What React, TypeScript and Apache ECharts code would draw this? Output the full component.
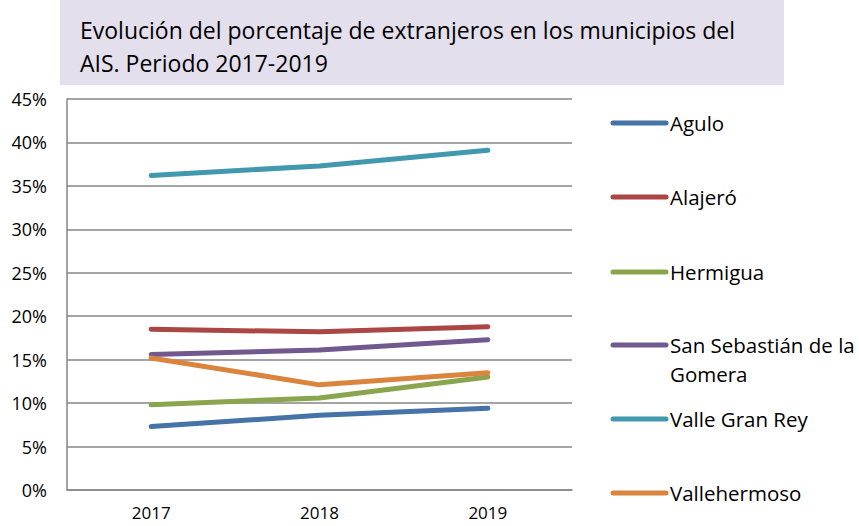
import React, { useEffect, useRef } from "react";
import * as echarts from "echarts";

const titleLines = [
  "Evolución del porcentaje de extranjeros en los municipios del",
  "AIS. Periodo 2017-2019",
];
const years = ["2017", "2018", "2019"];
const seriesNames = [
  "Agulo",
  "Alajeró",
  "Hermigua",
  "San Sebastián de la Gomera",
  "Valle Gran Rey",
  "Vallehermoso",
];
const legendLabels = [
  "Agulo",
  "Alajeró",
  "Hermigua",
  "San Sebastián de la\nGomera",
  "Valle Gran Rey",
  "Vallehermoso",
];
const agulo = [7.3, 8.6, 9.4];
const alajero = [18.5, 18.2, 18.8];
const hermigua = [9.8, 10.6, 13.0];
const sanSebastian = [15.6, 16.1, 17.3];
const valleGranRey = [36.2, 37.3, 39.1];
const vallehermoso = [15.2, 12.1, 13.5];
const seriesData = [agulo, alajero, hermigua, sanSebastian, valleGranRey, vallehermoso];
const colors = ["#4572A7", "#AA4643", "#89A54E", "#71588F", "#4198AF", "#DB843D"];
const legendY = [123, 197, 272, 345, 419, 493];

const FONT = "'Open Sans', 'Noto Sans', sans-serif";

export default function App() {
  const ref = useRef<HTMLDivElement>(null);
  useEffect(() => {
    if (!ref.current) return;
    const chart = echarts.init(ref.current, null, { renderer: "svg" });
    const legendGraphics: any[] = [];
    seriesNames.forEach((n, i) => {
      legendGraphics.push({
        type: "line",
        shape: { x1: 613, y1: legendY[i], x2: 666, y2: legendY[i] },
        style: { stroke: colors[i], lineWidth: 5, lineCap: "round" },
      });
      legendGraphics.push({
        type: "text",
        x: 670,
        y: legendY[i] - 15,
        style: {
          text: legendLabels[i],
          fill: "#000",
          font: `20.5px ${FONT}`,
          lineHeight: 29,
          verticalAlign: "top",
        },
      });
    });
    chart.setOption({
      animation: false,
      backgroundColor: "#fff",
      graphic: [
        {
          type: "rect",
          shape: { x: 60, y: 0, width: 724, height: 85 },
          style: { fill: "#E4DFEC" },
          silent: true,
        },
        {
          type: "text",
          x: 80,
          y: 13,
          style: {
            text: titleLines.join("\n"),
            fill: "#000",
            font: `23px ${FONT}`,
            lineHeight: 33,
            verticalAlign: "top",
          },
        },
        ...legendGraphics,
      ],
      grid: { left: 67, right: 287, top: 99, bottom: 36, containLabel: false },
      xAxis: {
        type: "category",
        data: years,
        boundaryGap: true,
        axisLine: { show: true, lineStyle: { color: "#868686", width: 1.5 } },
        axisTick: { show: false },
        axisLabel: {
          color: "#000",
          fontSize: 17,
          fontFamily: FONT,
          margin: 14,
          lineHeight: 17,
        },
      },
      yAxis: {
        type: "value",
        min: 0,
        max: 45,
        interval: 5,
        axisLine: { show: true, lineStyle: { color: "#868686", width: 1.5 } },
        axisTick: { show: false },
        axisLabel: {
          color: "#000",
          fontSize: 18,
          fontFamily: FONT,
          margin: 20,
          formatter: (v: number) => `${v}%`,
        },
        splitLine: { show: true, lineStyle: { color: "#868686", width: 1.5 } },
      },
      series: seriesNames.map((n, i) => ({
        name: n,
        type: "line",
        data: seriesData[i],
        symbol: "none",
        lineStyle: { color: colors[i], width: 5, cap: "round", join: "round" },
        itemStyle: { color: colors[i] },
      })),
    });
    return () => chart.dispose();
  }, []);
  return <div ref={ref} style={{ width: 859, height: 526, position: "absolute", left: 0, top: 0 }} />;
}
